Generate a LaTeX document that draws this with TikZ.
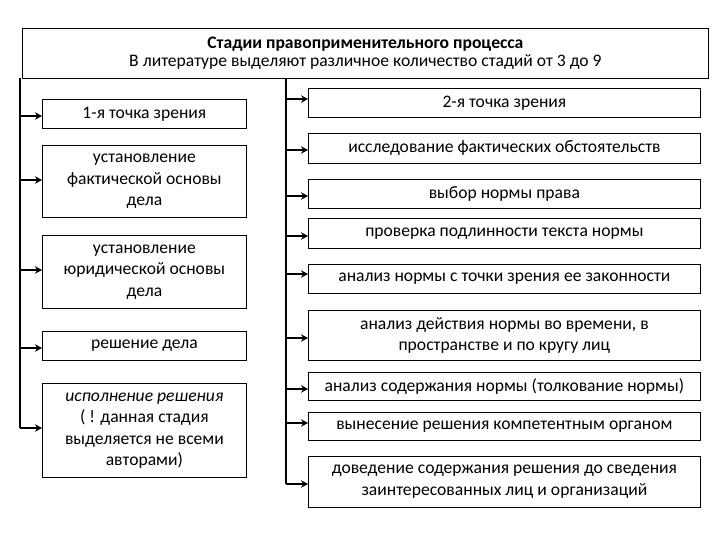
\documentclass[tikz,border=0pt]{standalone}
\usepackage{fontspec}
\setmainfont{Carlito}
\usetikzlibrary{arrows.meta}
\tikzset{stagebox/.style={draw, line width=0.8pt, anchor=north west, align=center, inner sep=1pt,
    font=\fontsize{17.6}{21.5}\selectfont},
  spine/.style={line width=2.6pt},
  feed/.style={line width=2.6pt, -{Stealth[length=7pt,width=7.5pt]}}}
\begin{document}
\begin{tikzpicture}[x=1pt,y=-1pt]
\useasboundingbox (0,0) rectangle (720,540);
% title
\node[stagebox, minimum width=686pt, minimum height=50pt, font=\fontsize{17.6}{18.5}\selectfont] (title) at (22,28)
  {\textbf{Стадии правоприменительного процесса}\\В литературе выделяют различное количество стадий от 3 до 9};
% left column
\node[stagebox, minimum width=204pt, minimum height=29pt] (l1) at (42,99) {1-я точка зрения};
\node[stagebox, minimum width=204pt, minimum height=72pt] (l2) at (42,145) {установление\\фактической основы\\дела};
\node[stagebox, minimum width=204pt, minimum height=73pt] (l3) at (42,235) {установление\\юридической основы\\дела};
\node[stagebox, minimum width=204pt, minimum height=29pt] (l4) at (42,331) {решение дела};
\node[stagebox, minimum width=204pt, minimum height=94pt] (l5) at (42,383) {\textit{исполнение решения}\\( ! данная стадия\\выделяется не всеми\\авторами)};
% right column
\node[stagebox, minimum width=392pt, minimum height=29pt] (r1) at (308,88) {2-я точка зрения};
\node[stagebox, minimum width=392pt, minimum height=30pt] (r2) at (308,133) {исследование фактических обстоятельств};
\node[stagebox, minimum width=392pt, minimum height=29pt] (r3) at (308,179) {выбор нормы права};
\node[stagebox, minimum width=392pt, minimum height=30pt] (r4) at (308,218) {проверка подлинности текста нормы};
\node[stagebox, minimum width=392pt, minimum height=29pt] (r5) at (308,264) {анализ нормы с точки зрения ее законности};
\node[stagebox, minimum width=392pt, minimum height=50pt] (r6) at (308,310) {анализ действия нормы во времени, в\\пространстве и по кругу лиц};
\node[stagebox, minimum width=392pt, minimum height=28pt] (r7) at (308,372) {анализ содержания нормы (толкование нормы)};
\node[stagebox, minimum width=392pt, minimum height=28pt] (r8) at (308,412) {вынесение решения компетентным органом};
\node[stagebox, minimum width=392pt, minimum height=51pt] (r9) at (308,456) {доведение содержания решения до сведения\\заинтересованных лиц и организаций};
% spines
\coordinate (ltop) at (20,78);
\coordinate (lbot) at (20,428);
\coordinate (rtop) at (286,78);
\coordinate (rbot) at (286,484);
\draw[spine] (ltop) -- (lbot);
\draw[spine] (rtop) -- (rbot);
% arrows left
\foreach \n/\y in {l1/116, l2/180, l3/270, l4/348}
  \draw[feed] (20,\y) -- (\n.west |- 0,\y);
\draw[feed] (lbot) -- (l5.west |- lbot);
% arrows right
\foreach \n/\y in {r1/99, r2/150, r3/196, r4/236, r5/274, r6/338, r7/389, r8/423}
  \draw[feed] (286,\y) -- (\n.west |- 0,\y);
\draw[feed] (rbot) -- (r9.west |- rbot);
\end{tikzpicture}
\end{document}
